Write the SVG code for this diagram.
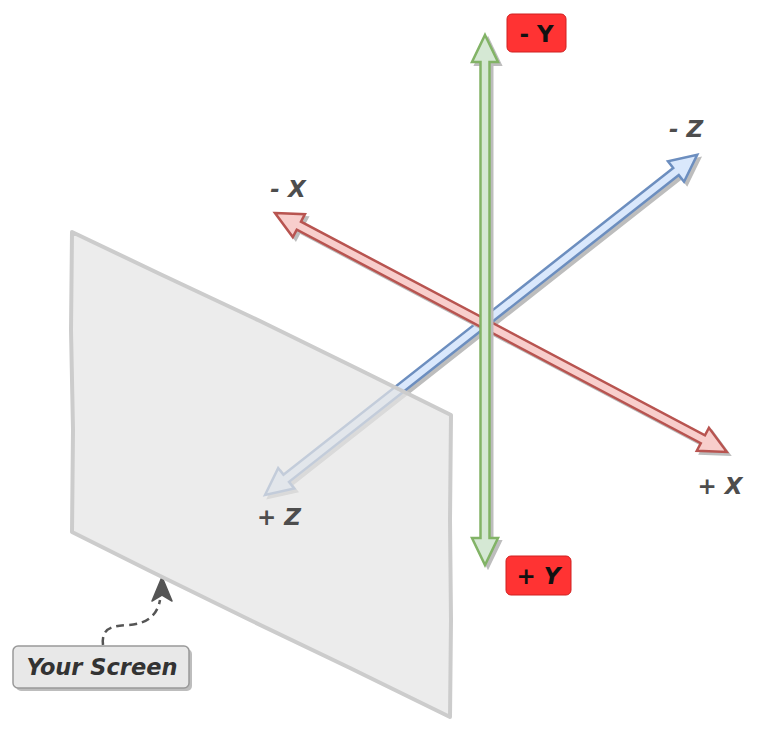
<svg xmlns="http://www.w3.org/2000/svg" width="770" height="736" viewBox="0 0 770 736">
<style>
.lbl{font-family:"DejaVu Sans",Verdana,sans-serif;font-weight:bold;font-style:italic;font-size:23px;fill:#4d4d4d}
.shd{fill:#bdbdbd;stroke:#bdbdbd;stroke-width:2}
.red{fill:#f8cecc;stroke:#b85450;stroke-width:2.5}
.blue{fill:#dae8fc;stroke:#6c8ebf;stroke-width:2.5}
.green{fill:#d5e8d4;stroke:#82b366;stroke-width:2.5}
.tag{fill:#ff3333;stroke:#d02020;stroke-width:1}
.tagt{font-family:"DejaVu Sans",Verdana,sans-serif;font-weight:bold;font-size:23px;fill:#111}
</style>
<rect width="770" height="736" fill="#ffffff"/>
<g id="connectors">
  <g id="axis-z">
    <path class="shd" transform="translate(268,498) rotate(-38.2)" d="M0,0 L27,-13 L27,-4.5 L523,-4.5 L523,-13 L550,0 L523,13 L523,4.5 L27,4.5 L27,13 Z"/>
    <path class="blue" transform="translate(265,495) rotate(-38.2)" d="M0,0 L27,-13 L27,-4.5 L523,-4.5 L523,-13 L550,0 L523,13 L523,4.5 L27,4.5 L27,13 Z"/>
  </g>
  <g id="axis-x">
    <path class="shd" transform="translate(278,216) rotate(27.87)" d="M0,0 L27,-13 L27,-4.5 L484,-4.5 L484,-13 L511,0 L484,13 L484,4.5 L27,4.5 L27,13 Z"/>
    <path class="red" transform="translate(275,213) rotate(27.87)" d="M0,0 L27,-13 L27,-4.5 L484,-4.5 L484,-13 L511,0 L484,13 L484,4.5 L27,4.5 L27,13 Z"/>
  </g>
  <g id="axis-y">
    <path class="shd" transform="translate(488,38) rotate(90)" d="M0,0 L27,-13 L27,-4.5 L503,-4.5 L503,-13 L530,0 L503,13 L503,4.5 L27,4.5 L27,13 Z"/>
    <path class="green" transform="translate(485,35) rotate(90)" d="M0,0 L27,-13 L27,-4.5 L503,-4.5 L503,-13 L530,0 L503,13 L503,4.5 L27,4.5 L27,13 Z"/>
  </g>
  <g id="screen-pointer">
    <path d="M103,645 C101,628 112,626 128,625 C150,624 158,612 160,600" fill="none" stroke="#555" stroke-width="2.5" stroke-dasharray="8,5"/>
    <path d="M162,577 L172,601 L162,595 L152,601 Z" fill="#555" stroke="#555" stroke-width="1.5" stroke-linejoin="round"/>
  </g>
</g>
<g id="screen">
  <path d="M72,232 L160,274 L260,321 L360,370 L451,415 L450,520 L451,620 L450,717 L350,668 L250,620 L150,571 L72,532 L73,430 L71,330 Z" fill="#e4e4e4" fill-opacity="0.72" stroke="#cccccc" stroke-width="4" stroke-linejoin="round"/>
</g>
<g id="label-neg-y">
  <rect class="tag" x="507" y="14" width="59" height="38" rx="5"/>
  <text class="tagt" x="536.5" y="42" text-anchor="middle">- Y</text>
</g>
<g id="label-pos-y">
  <rect class="tag" x="506" y="556" width="65" height="39" rx="5"/>
  <text class="tagt" x="538.5" y="584" text-anchor="middle" font-style="italic">+ Y</text>
</g>
<g id="label-neg-x"><text class="lbl" x="288" y="197" text-anchor="middle">- X</text></g>
<g id="label-neg-z"><text class="lbl" x="686" y="137" text-anchor="middle">- Z</text></g>
<g id="label-pos-x"><text class="lbl" x="720" y="494" text-anchor="middle">+ X</text></g>
<g id="label-pos-z"><text class="lbl" x="279" y="525" text-anchor="middle">+ Z</text></g>
<g id="your-screen">
  <rect x="16" y="649" width="176" height="42" rx="5" fill="#bdbdbd"/>
  <rect x="13" y="646" width="176" height="42" rx="5" fill="#e8e8e8" stroke="#999999" stroke-width="1.5"/>
  <text x="102" y="675" text-anchor="middle" font-family="'DejaVu Sans',Verdana,sans-serif" font-weight="bold" font-style="italic" font-size="22.5" fill="#333333">Your Screen</text>
</g>
</svg>
